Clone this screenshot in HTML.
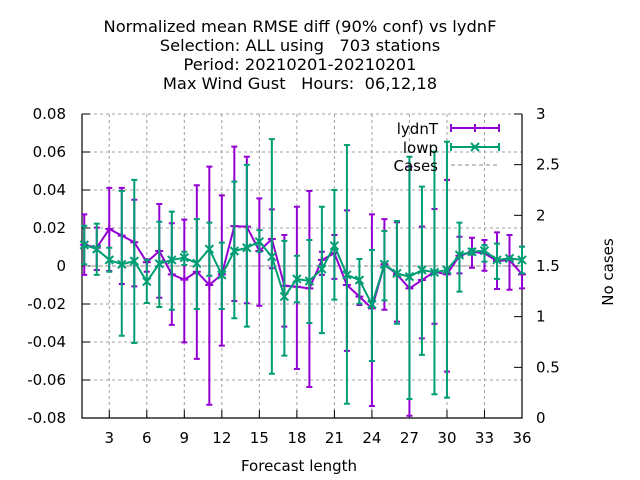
<!DOCTYPE html>
<html><head><meta charset="utf-8"><style>
body{margin:0;background:#fff;}
svg{display:block;font-family:"DejaVu Sans","Liberation Sans",sans-serif;}
</style></head><body>
<svg id="chart" width="640" height="480">
<g font-size="16.3" text-anchor="middle" fill="#000">
<text x="300" y="32">Normalized mean RMSE diff (90% conf) vs lydnF</text>
<text x="300" y="51" xml:space="preserve">Selection: ALL using   703 stations</text>
<text x="300" y="70">Period: 20210201-20210201</text>
<text x="300" y="89" xml:space="preserve">Max Wind Gust   Hours:  06,12,18</text>
</g>
<g id="grid"></g>
<g id="axes"></g>
<g id="series"></g>
<text x="299" y="471" font-size="15" text-anchor="middle">Forecast length</text>
<text x="613" y="272" font-size="15" text-anchor="middle" transform="rotate(-90 613 272)">No cases</text>
<g font-size="15" text-anchor="end">
<text x="438" y="134">lydnT</text>
<line x1="451" y1="128" x2="499" y2="128" stroke="#9400d3" stroke-width="2"/>
<line x1="451" y1="124" x2="451" y2="132" stroke="#9400d3" stroke-width="2"/><line x1="499" y1="124" x2="499" y2="132" stroke="#9400d3" stroke-width="2"/>
<path d="M475 124v8M471 128h8" stroke="#9400d3" stroke-width="2"/>
<text x="438" y="153">lowp</text>
<line x1="451" y1="147" x2="499" y2="147" stroke="#009e73" stroke-width="2"/>
<line x1="451" y1="143" x2="451" y2="151" stroke="#009e73" stroke-width="2"/><line x1="499" y1="143" x2="499" y2="151" stroke="#009e73" stroke-width="2"/>
<path d="M471 143l8 8M479 143l-8 8" stroke="#009e73" stroke-width="2"/>
<text x="438" y="171">Cases</text>
<line x1="451" y1="165" x2="499" y2="165" stroke="#a0a0a0" stroke-width="1.2" stroke-dasharray="4,3"/>
</g>
</svg>
<script>
const xs=[1,2,3,4,5,6,7,8,9,10,11,12,13,14,15,16,17,18,19,20,21,22,23,24,25,26,27,28,29,30,31,32,33,34,35,36];
const lydnT=[0.0111,0.0096,0.0195,0.016,0.0125,0.002,0.0079,-0.0044,-0.0072,-0.003,-0.01,-0.0044,0.021,0.0207,0.0079,0.0142,-0.0104,-0.0109,-0.0118,0.0032,0.0067,-0.01,-0.0161,-0.0223,0.0009,-0.0044,-0.0118,-0.0074,-0.003,-0.0044,0.0054,0.0075,0.0067,0.0026,0.0032,-0.0044];
const lydnTHi=[0.0272,0.0202,0.0411,0.0411,0.0349,0.0035,0.0326,0.0225,0.0244,0.0425,0.0523,0.0372,0.0628,0.0575,0.0356,0.0298,0.0163,0.0312,0.0395,0.0075,0.0163,0.0293,-0.0086,0.0272,0.0247,0.023,0.0523,0.0207,0.03,0.0453,0.0154,0.0149,0.0137,0.0177,0.0163,0.0102];
const lydnTLo=[-0.0047,-0.0021,-0.0026,-0.0095,-0.0107,-0.003,-0.0167,-0.031,-0.0402,-0.0489,-0.073,-0.0419,-0.0184,-0.0196,-0.0209,-0.0012,-0.0319,-0.0542,-0.0637,-0.0047,-0.0068,-0.0447,-0.0205,-0.0737,-0.023,-0.0293,-0.0788,-0.0381,-0.0304,-0.0556,-0.0039,-0.0009,-0.0025,-0.0121,-0.0125,-0.0118];
const lowp=[0.0111,0.0089,0.0032,0.0009,0.0026,-0.0082,0.0012,0.0032,0.0044,0.0014,0.0089,-0.0047,0.0079,0.0096,0.0128,0.0049,-0.0161,-0.0068,-0.0079,-0.0016,0.0107,-0.0047,-0.0074,-0.0202,0.0009,-0.0039,-0.0056,-0.0021,-0.0033,-0.0021,0.0058,0.0075,0.0081,0.0032,0.004,0.0032];
const lowpHi=[0.0212,0.0223,0.0096,0.0395,0.0453,0.0032,0.0233,0.0286,0.0075,0.0247,0.0228,0.0123,0.0444,0.0532,0.0189,0.0668,0.0132,0.0054,0.0137,0.0312,0.04,0.0637,0.0037,0.0084,0.0184,0.0237,0.0575,0.0418,0.0602,0.0654,0.0228,0.009,0.011,0.0118,0.0045,0.0102];
const lowpLo=[0.0009,-0.0047,-0.003,-0.0367,-0.0405,-0.0195,-0.0216,-0.023,0.0005,-0.0226,-0.0051,-0.0226,-0.0275,-0.0319,0.0075,-0.0567,-0.0472,-0.0191,-0.03,-0.0353,-0.0177,-0.0725,-0.0198,-0.05,-0.0181,-0.0304,-0.07,-0.0468,-0.0675,-0.0693,-0.0135,0.006,0.0023,-0.0068,0.0035,-0.0039];
const cases=xs.map(()=>1.5);
const yTicks=[0.08,0.06,0.04,0.02,0,-0.02,-0.04,-0.06,-0.08];
const yTickLabels=["0.08","0.06","0.04","0.02","0","-0.02","-0.04","-0.06","-0.08"];
const xTicks=[3,6,9,12,15,18,21,24,27,30,33,36];
const y2Ticks=[0,0.5,1,1.5,2,2.5,3];
const y2TickLabels=["0","0.5","1","1.5","2","2.5","3"];

const L=82,R=522,T=114,B=418,XMIN=0.82,XMAX=36;
const sx=v=>L+(v-XMIN)/(XMAX-XMIN)*(R-L);
const sy=v=>T+(0.08-v)/0.16*(B-T);
const sy2=v=>B-(v/3)*(B-T);
const NS="http://www.w3.org/2000/svg";
function mk(parent,tag,attrs){const e=document.createElementNS(NS,tag);for(const k in attrs)e.setAttribute(k,attrs[k]);parent.appendChild(e);return e;}
const grid=document.getElementById('grid'),axes=document.getElementById('axes'),series=document.getElementById('series');
yTicks.forEach((v,i)=>{
  const g=mk(grid,'line',{x1:L,x2:R,y1:sy(v),y2:sy(v),stroke:'#a0a0a0','stroke-dasharray':'3,3','stroke-width':1});
  
  
  mk(axes,'line',{x1:L,x2:L+8,y1:sy(v),y2:sy(v),stroke:'#000'});
  const t=mk(axes,'text',{x:L-16,y:sy(v)+5,'font-size':15,'text-anchor':'end'});t.textContent=yTickLabels[i];
  
  
});
xTicks.forEach(v=>{
  const g=mk(grid,'line',{x1:sx(v),x2:sx(v),y1:T,y2:B,stroke:'#a0a0a0','stroke-dasharray':'3,3','stroke-width':1});
  
  
  mk(axes,'line',{x1:sx(v),x2:sx(v),y1:B,y2:B-8,stroke:'#000'});
  const t=mk(axes,'text',{x:sx(v),y:B+25,'font-size':15,'text-anchor':'middle'});t.textContent=v;
  
  
});
y2Ticks.forEach((v,i)=>{
  mk(axes,'line',{x1:R,x2:R-8,y1:sy2(v),y2:sy2(v),stroke:'#000'});
  const t=mk(axes,'text',{x:R+14,y:sy2(v)+5,'font-size':15,'text-anchor':'start'});t.textContent=y2TickLabels[i];
  
  
});
mk(axes,'path',{d:`M${L} ${T}V${B}H${R}V${T}`,fill:'none',stroke:'#000','stroke-width':1.2});
function draw(vals,hi,lo,color,marker,name){
  const g=mk(series,'g',{});
  
  
  xs.forEach((x,i)=>{
    const X=sx(x);
    mk(g,'path',{d:`M${X} ${sy(hi[i])}V${sy(lo[i])}M${X-3} ${sy(hi[i])}h6M${X-3} ${sy(lo[i])}h6`,stroke:color,'stroke-width':2,fill:'none'});
  });
  mk(g,'polyline',{points:xs.map((x,i)=>sx(x)+','+sy(vals[i])).join(' '),fill:'none',stroke:color,'stroke-width':2});
  xs.forEach((x,i)=>{
    const X=sx(x),Y=sy(vals[i]);
    const d=marker==='+'?`M${X-4} ${Y}h8M${X} ${Y-4}v8`:`M${X-4} ${Y-4}l8 8M${X+4} ${Y-4}l-8 8`;
    const m=mk(g,'path',{d:d,stroke:color,'stroke-width':2});
    
    
  });
}
const cl=mk(series,'polyline',{points:xs.map((x,i)=>sx(x)+','+sy2(cases[i])).join(' '),fill:'none',stroke:'#a0a0a0','stroke-dasharray':'4,3','stroke-width':1.2});


draw(lydnT,lydnTHi,lydnTLo,'#9400d3','+','lydnT');
draw(lowp,lowpHi,lowpLo,'#009e73','x','lowp');
</script>
</body></html>
